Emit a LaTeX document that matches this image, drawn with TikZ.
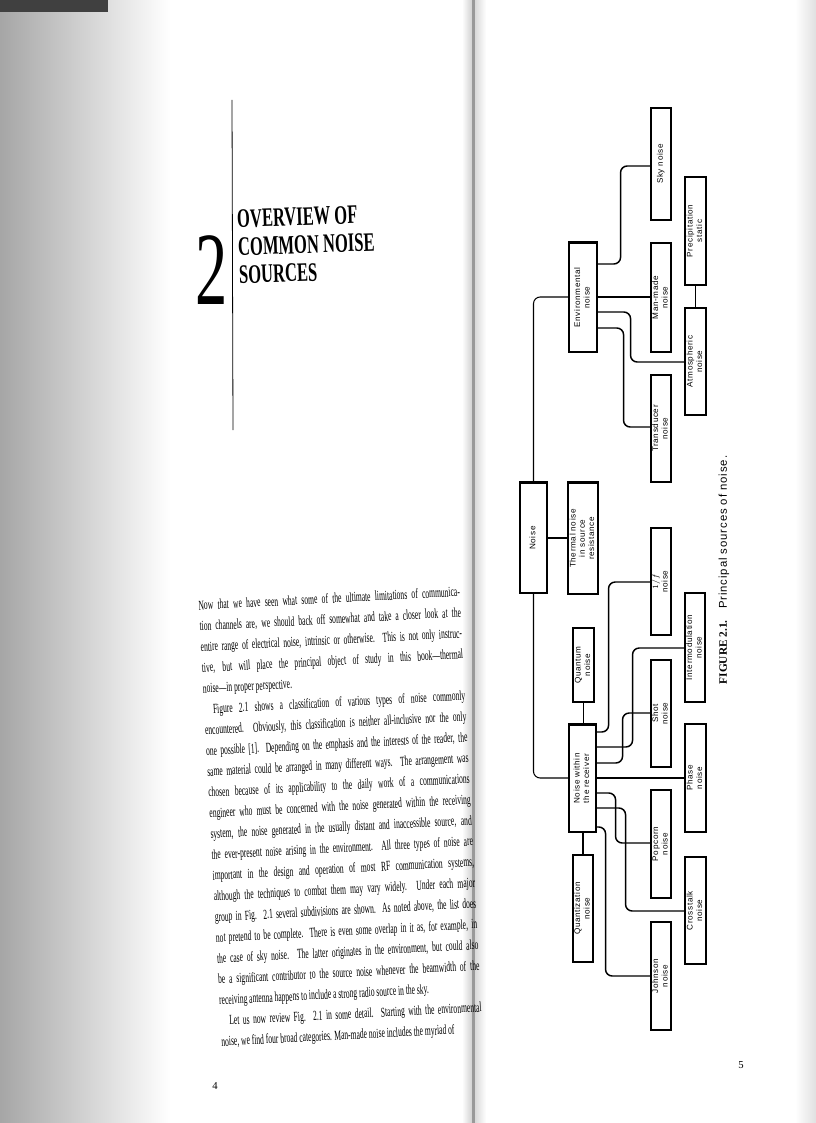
\documentclass[tikz,border=0pt]{standalone}
\usepackage{fontspec}
\setmainfont{Liberation Serif}
\newfontfamily\dsans[LetterSpace=8]{Liberation Sans}
\usepackage{graphicx}
\tikzset{
  box/.style={draw,line width=0.8pt,inner sep=0pt,font=\dsans\fontsize{6.1}{7}\selectfont},
  conn/.style={line width=1.1pt,rounded corners=5pt},
  thin/.style={line width=0.8pt},
}
\newcommand\bx[6]{\node[box,minimum width={(#4-#2)*0.75pt},minimum height={(#5-#3)*0.75pt}] (#1) at ({(#2+#4)/2},{(#3+#5)/2}) {\rotatebox{90}{\begin{tabular}{@{}c@{}}#6\end{tabular}}};}
\newcommand\yc[2]{\coordinate (#1) at (0,#2);}
\begin{document}
\begin{tikzpicture}[x=0.75pt,y=-0.75pt]
\useasboundingbox (0,0) rectangle (816,1123);
% page shading
\shade[left color=black!35,right color=white] (0,0) rectangle (170,1123);
\fill[black!75] (0,0) rectangle (108,12);
\shade[left color=white,right color=black!18] (462,0) rectangle (472,1123);
\fill[black!40] (472,0) rectangle (475,1123);
\shade[left color=black!15,right color=white] (475,0) rectangle (486,1123);
\shade[left color=white,right color=black!12] (795,0) rectangle (816,1123);

% ---------- left page ----------
\draw[line width=0.6pt] (232,100) -- (233,430);
\node[anchor=east,inner sep=0pt] (two) at (228,270) {\scalebox{0.62}[1]{\fontsize{78}{78}\selectfont 2}};
\node[anchor=west,inner sep=0pt,align=left,rotate=2] (head) at (238,250)
  {\scalebox{0.62}[1]{\fontsize{20}{21}\bfseries\selectfont\begin{tabular}{@{}l@{}}OVERVIEW OF\\COMMON NOISE\\SOURCES\end{tabular}}};
\node[anchor=north west,inner sep=0pt,rotate=3] (body) at (198,600)
 {\scalebox{0.545}[1]{\begin{minipage}{360pt}\fontsize{10.4}{15.6}\selectfont\sloppy
 \noindent Now that we have seen what some of the ultimate limitations of communica-\linebreak
 tion channels are, we should back off somewhat and take a closer look at the\linebreak
 entire range of electrical noise, intrinsic or otherwise. This is not only instruc-\linebreak
 tive, but will place the principal object of study in this book---thermal\linebreak
 noise---in proper perspective.\par
 \hspace*{1.2em}Figure 2.1 shows a classification of various types of noise commonly\linebreak
 encountered. Obviously, this classification is neither all-inclusive nor the only\linebreak
 one possible [1]. Depending on the emphasis and the interests of the reader, the\linebreak
 same material could be arranged in many different ways. The arrangement was\linebreak
 chosen because of its applicability to the daily work of a communications\linebreak
 engineer who must be concerned with the noise generated within the receiving\linebreak
 system, the noise generated in the usually distant and inaccessible source, and\linebreak
 the ever-present noise arising in the environment. All three types of noise are\linebreak
 important in the design and operation of most RF communication systems,\linebreak
 although the techniques to combat them may vary widely. Under each major\linebreak
 group in Fig. 2.1 several subdivisions are shown. As noted above, the list does\linebreak
 not pretend to be complete. There is even some overlap in it as, for example, in\linebreak
 the case of sky noise. The latter originates in the environment, but could also\linebreak
 be a significant contributor to the source noise whenever the beamwidth of the\linebreak
 receiving antenna happens to include a strong radio source in the sky.\par
 \hspace*{1.2em}Let us now review Fig. 2.1 in some detail. Starting with the environmental\linebreak
 noise, we find four broad categories. Man-made noise includes the myriad of
 \end{minipage}}};
\node[font=\fontsize{8}{8}\selectfont] (p4) at (215,1086) {4};

% ---------- right page: diagram ----------
\bx{noise}{520}{483}{547}{593}{Noise}
\bx{therm}{568}{483}{598}{594}{Thermal noise\\in source\\resistance}
\bx{env}{569}{243}{597}{352}{Environmental\\noise}
\bx{sky}{651}{108}{671}{220}{Sky noise}
\bx{man}{651}{243}{671}{352}{Man-made\\noise}
\bx{trans}{651}{375}{671}{482}{Transducer\\noise}
\bx{prec}{685}{177}{706}{285}{Precipitation\\static}
\bx{atm}{685}{308}{706}{415}{Atmospheric\\noise}
\bx{rec}{569}{725}{596}{832}{Noise within\\the receiver}
\bx{quan}{573}{628}{594}{702}{Quantum\\noise}
\bx{qz}{573}{855}{593}{962}{Quantization\\noise}
\bx{onef}{651}{528}{671}{635}{$1/f$\\noise}
\bx{shot}{651}{660}{671}{767}{Shot\\noise}
\bx{pop}{651}{790}{671}{898}{Popcorn\\noise}
\bx{john}{651}{922}{671}{1030}{Johnson\\noise}
\bx{inter}{685}{593}{705}{702}{Intermodulation\\noise}
\bx{phase}{685}{724}{706}{832}{Phase\\noise}
\bx{cross}{685}{857}{706}{964}{Crosstalk\\noise}
% thick tops
\draw[line width=2.2pt] (noise.north west) -- (noise.north east);
\draw[line width=2.2pt] (therm.north west) -- (therm.north east);
\draw[line width=2.2pt] (env.north west) -- (env.north east);
\draw[line width=2.2pt] (rec.north west) -- (rec.north east);

\yc{a297}{297}\yc{a778}{778}\yc{a538}{538}
\yc{e1}{264}\yc{s1}{166}\yc{e3}{312}\yc{t3}{362}\yc{e4}{328}\yc{t4}{427}
\yc{r1}{732}\yc{f1}{582}\yc{r2}{747}\yc{f2}{648}\yc{r3}{763}\yc{f3}{713}
\yc{r5}{793}\yc{f5}{843}\yc{r6}{808}\yc{f6}{911}\yc{r7}{827}\yc{f7}{976}
\draw[thin,rounded corners=5pt] (noise.north) |- (env.west |- a297);
\draw[thin,rounded corners=5pt] (noise.south) |- (rec.west |- a778);
\draw[conn] (noise.east |- a538) -- (therm.west |- a538);
\draw[conn] (env.east |- a297) -- (man.west |- a297);
\draw[conn] (env.east |- e1) -- ++(23,0) |- (sky.west |- s1);
\draw[conn] (env.east |- e3) -- ++(33,0) |- (atm.west |- t3);
\draw[conn] (env.east |- e4) -- ++(26,0) |- (trans.west |- t4);
\draw[thin] (atm.north) -- (prec.south);
\draw[thin] (rec.north -| quan.south) -- (quan.south);
\draw[thin] (rec.south -| qz.north) -- (qz.north);
\draw[conn] (rec.east |- r1) -- ++(12,0) |- (onef.west |- f1);
\draw[conn] (rec.east |- r2) -- ++(36,0) |- (inter.west |- f2);
\draw[conn] (rec.east |- r3) -- ++(26,0) |- (shot.west |- f3);
\draw[conn] (rec.east |- a778) -- (phase.west |- a778);
\draw[conn] (rec.east |- r5) -- ++(19,0) |- (pop.west |- f5);
\draw[conn] (rec.east |- r6) -- ++(29,0) |- (cross.west |- f6);
\draw[conn] (rec.east |- r7) -- ++(9,0) |- (john.west |- f7);
\node[rotate=90,font=\dsans\fontsize{8.5}{8.5}\selectfont] (cap) at (724,570)
  {{\rmfamily\bfseries FIGURE 2.1.}\quad Principal sources of noise.};
\node[font=\fontsize{8}{8}\selectfont] (p5) at (741,1065) {5};
\end{tikzpicture}
\end{document}
